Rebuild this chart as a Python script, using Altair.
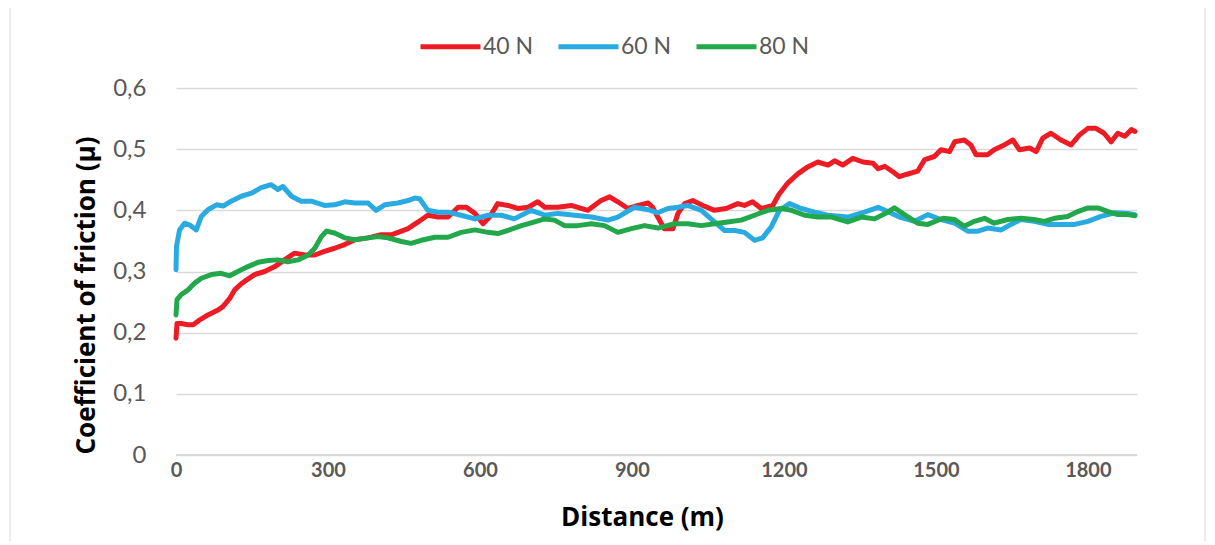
import altair as alt
import pandas as pd

SERIES = ["40 N", "60 N", "80 N"]
COLORS = ["#ed1c24", "#29abe2", "#22a84a"]

R_X = [0, 2, 10, 24, 34, 47, 63, 83, 93, 106,
       116, 126, 139, 155, 175, 195, 214, 234, 254, 274,
       293, 313, 333, 353, 379, 405, 425, 445, 458, 478,
       497, 517, 537, 557, 573, 590, 606, 619, 635, 655,
       675, 695, 714, 728, 754, 780, 813, 839, 856, 872,
       892, 912, 932, 941, 951, 964, 981, 991, 1004, 1020,
       1040, 1063, 1086, 1109, 1122, 1138, 1155, 1178, 1190, 1208,
       1228, 1247, 1267, 1287, 1300, 1316, 1336, 1356, 1376, 1386,
       1399, 1415, 1428, 1443, 1464, 1478, 1497, 1510, 1527, 1537,
       1556, 1569, 1579, 1602, 1615, 1635, 1652, 1665, 1685, 1698,
       1711, 1727, 1747, 1767, 1783, 1800, 1816, 1832, 1846, 1859,
       1873, 1886, 1893]
R_Y = [0.191, 0.215, 0.215, 0.213, 0.213, 0.221, 0.229, 0.237, 0.243, 0.256,
       0.270, 0.278, 0.286, 0.295, 0.300, 0.308, 0.319, 0.330, 0.327, 0.327,
       0.333, 0.338, 0.344, 0.352, 0.355, 0.360, 0.360, 0.366, 0.370, 0.381,
       0.392, 0.389, 0.389, 0.405, 0.405, 0.395, 0.378, 0.389, 0.411, 0.408,
       0.403, 0.405, 0.414, 0.405, 0.405, 0.408, 0.400, 0.416, 0.422, 0.414,
       0.403, 0.408, 0.412, 0.405, 0.389, 0.370, 0.370, 0.395, 0.411, 0.416,
       0.408, 0.400, 0.403, 0.411, 0.408, 0.414, 0.403, 0.408, 0.426, 0.445,
       0.460, 0.471, 0.479, 0.474, 0.481, 0.474, 0.485, 0.479, 0.477, 0.468,
       0.472, 0.463, 0.455, 0.459, 0.464, 0.483, 0.488, 0.499, 0.496, 0.512,
       0.515, 0.507, 0.491, 0.491, 0.499, 0.507, 0.515, 0.499, 0.502, 0.496,
       0.518, 0.526, 0.515, 0.507, 0.523, 0.534, 0.534, 0.526, 0.512, 0.526,
       0.521, 0.532, 0.529]

B_X = [0, 1, 7, 17, 27, 40, 50, 63, 80, 93,
       109, 129, 149, 168, 188, 201, 211, 228, 247, 267,
       293, 313, 333, 353, 379, 395, 412, 438, 458, 471,
       481, 497, 517, 537, 563, 590, 616, 642, 668, 701,
       728, 754, 787, 820, 853, 872, 905, 932, 951, 971,
       991, 1010, 1037, 1056, 1083, 1103, 1122, 1142, 1158, 1175,
       1191, 1211, 1234, 1261, 1287, 1326, 1359, 1386, 1405, 1428,
       1458, 1484, 1510, 1537, 1563, 1583, 1602, 1629, 1648, 1668,
       1694, 1721, 1747, 1774, 1800, 1826, 1853, 1879, 1893]
B_Y = [0.303, 0.341, 0.368, 0.379, 0.376, 0.368, 0.390, 0.401, 0.409, 0.407,
       0.415, 0.423, 0.428, 0.437, 0.442, 0.434, 0.439, 0.423, 0.415, 0.415,
       0.408, 0.409, 0.414, 0.412, 0.412, 0.400, 0.409, 0.412, 0.416, 0.420,
       0.419, 0.400, 0.397, 0.397, 0.392, 0.386, 0.392, 0.392, 0.386, 0.400,
       0.392, 0.395, 0.392, 0.389, 0.384, 0.389, 0.405, 0.401, 0.396, 0.403,
       0.405, 0.408, 0.400, 0.386, 0.367, 0.367, 0.364, 0.351, 0.355, 0.373,
       0.400, 0.411, 0.403, 0.397, 0.392, 0.389, 0.397, 0.405, 0.398, 0.389,
       0.382, 0.393, 0.385, 0.379, 0.366, 0.366, 0.371, 0.368, 0.377, 0.385,
       0.382, 0.377, 0.377, 0.377, 0.382, 0.390, 0.396, 0.395, 0.393]

G_X = [0, 2, 10, 24, 37, 50, 70, 89, 106, 122,
       142, 162, 182, 201, 221, 241, 261, 274, 287, 297,
       313, 333, 353, 379, 399, 418, 445, 464, 484, 511,
       537, 563, 590, 616, 635, 655, 682, 708, 728, 747,
       767, 793, 820, 846, 872, 899, 925, 951, 984, 1010,
       1037, 1063, 1089, 1116, 1142, 1168, 1195, 1215, 1241, 1267,
       1294, 1326, 1353, 1379, 1405, 1418, 1438, 1464, 1484, 1514,
       1537, 1556, 1576, 1596, 1615, 1642, 1668, 1694, 1714, 1734,
       1760, 1780, 1800, 1820, 1840, 1859, 1879, 1893]
G_Y = [0.229, 0.254, 0.262, 0.270, 0.281, 0.289, 0.295, 0.297, 0.293, 0.300,
       0.308, 0.315, 0.318, 0.319, 0.316, 0.319, 0.327, 0.338, 0.357, 0.366,
       0.363, 0.355, 0.352, 0.355, 0.357, 0.355, 0.349, 0.346, 0.351, 0.356,
       0.356, 0.364, 0.368, 0.364, 0.362, 0.367, 0.375, 0.381, 0.386, 0.384,
       0.375, 0.375, 0.378, 0.375, 0.364, 0.370, 0.375, 0.371, 0.378, 0.378,
       0.375, 0.378, 0.381, 0.384, 0.392, 0.400, 0.403, 0.400, 0.392, 0.389,
       0.389, 0.381, 0.389, 0.386, 0.397, 0.404, 0.393, 0.379, 0.377, 0.387,
       0.385, 0.374, 0.382, 0.387, 0.379, 0.385, 0.387, 0.385, 0.382, 0.387,
       0.390, 0.398, 0.404, 0.404, 0.398, 0.393, 0.393, 0.391]

X_TICKS = [0, 300, 600, 900, 1200, 1500, 1800]
Y_TICKS = [0, 0.1, 0.2, 0.3, 0.4, 0.5, 0.6]

rows = []
for name, xs, ys in zip(SERIES, [R_X, B_X, G_X], [R_Y, B_Y, G_Y]):
    for i, (x, y) in enumerate(zip(xs, ys)):
        rows.append({"series": name, "order": i, "dist": x, "mu": y})
df = pd.DataFrame(rows)

FONT = "Lato"
TFONT = "Open Sans"

lines = alt.Chart(df).mark_line(strokeWidth=5, strokeJoin="round", strokeCap="round").encode(
    x=alt.X("dist:Q", scale=alt.Scale(domain=[0, 1897], nice=False, zero=False),
            axis=alt.Axis(values=X_TICKS, format="d", title="Distance (m)", grid=False, ticks=False,
                          domain=False, labelFontSize=20, labelFontWeight="bold",
                          labelColor="#595959", labelPadding=5, labelFont=FONT,
                          titleFont=TFONT, titleFontSize=26, titleFontWeight="bold",
                          titleColor="#000000", titlePadding=24, titleX=466,
                          labelFlush=False)),
    y=alt.Y("mu:Q", scale=alt.Scale(domain=[0, 0.6], nice=False),
            axis=alt.Axis(values=Y_TICKS, title="Coefficient of friction (μ)",
                          labelExpr="datum.value == 0 ? '0' : replace(format(datum.value, '.1f'), '.', ',')",
                          grid=True, gridColor="#d9d9d9", gridWidth=1.5, ticks=False, domain=False,
                          labelFontSize=24, labelColor="#595959", labelPadding=30, labelFont=FONT,
                          titleFont=TFONT, titleFontSize=26, titleFontWeight="bold",
                          titleColor="#000000", titlePadding=13, titleY=207)),
    color=alt.Color("series:N", scale=alt.Scale(domain=SERIES, range=COLORS),
                    legend=alt.Legend(title=None, orient="none", direction="horizontal",
                                      legendX=242, legendY=-74,
                                      symbolType="stroke", symbolSize=3600,
                                      symbolStrokeWidth=5, labelFontSize=23,
                                      labelColor="#595959", labelFont=FONT,
                                      labelOffset=0, columnPadding=14)),
    order="order:Q",
)

baseline = alt.Chart(pd.DataFrame({"v": [0]})).mark_rule(color="#d9d9d9", strokeWidth=2).encode(
    y="v:Q", x=alt.value(0), x2=alt.value(961)
)

frame = alt.Chart(pd.DataFrame({"v": [0]})).mark_rect(
    fill=None, stroke="#d9d9d9", strokeWidth=1
).encode(
    x=alt.value(-166), x2=alt.value(1029), y=alt.value(-86), y2=alt.value(470)
)

chart = alt.layer(frame, lines, baseline).properties(
    width=961, height=367,
    autosize=alt.AutoSizeParams(type="none"),
    padding={"left": 168, "top": 80, "right": 70, "bottom": 86},
    background="#ffffff",
).configure_view(stroke=None)

chart.save("out.html", embed_options={"renderer": "svg", "actions": False})
